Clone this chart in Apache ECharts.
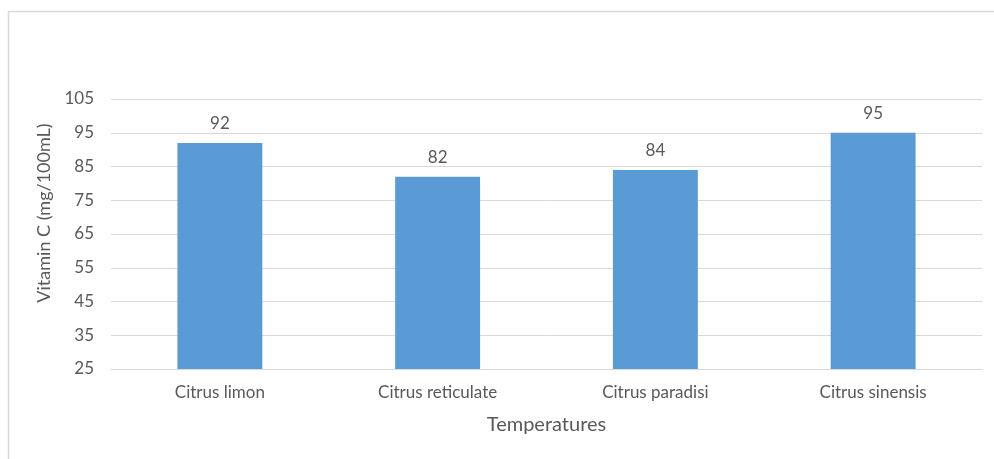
<!DOCTYPE html>
<html>
<head>
<meta charset="utf-8">
<script src="https://cdn.jsdelivr.net/npm/echarts@6/dist/echarts.min.js"></script>
<style>
  html, body { margin: 0; padding: 0; background: #ffffff; }
  #chart { width: 994px; height: 459px; }
</style>
</head>
<body>
<div id="chart"></div>
<script>
// Vitamin C content per citrus species
const categories = ['Citrus limon', 'Citrus reticulate', 'Citrus paradisi', 'Citrus sinensis'];
const vitaminC = [92, 82, 84, 95];
const yMin = 25;
const yMax = 105;
const yStep = 10;

const textColor = '#595959';
const gridColor = '#D9D9D9';
const fontFamily = 'Lato, "Open Sans", sans-serif';

const chart = echarts.init(document.getElementById('chart'));
chart.setOption({
  animation: false,
  backgroundColor: '#ffffff',
  graphic: [{
    type: 'rect',
    left: 6,
    top: 9,
    shape: { width: 1000, height: 500 },
    style: { fill: 'none', stroke: '#D9D9D9', lineWidth: 1.5 },
    silent: true
  }],
  grid: { left: 111, right: 12, top: 99, bottom: 90, containLabel: false },
  xAxis: {
    type: 'category',
    data: categories,
    name: 'Temperatures',
    nameLocation: 'middle',
    nameGap: 46,
    nameTextStyle: { color: textColor, fontSize: 20, fontFamily: fontFamily },
    axisLine: { show: true, lineStyle: { color: gridColor, width: 1 } },
    axisTick: { show: false },
    axisLabel: { color: textColor, fontSize: 17, fontFamily: fontFamily, margin: 15 }
  },
  yAxis: {
    type: 'value',
    min: yMin,
    max: yMax,
    interval: yStep,
    name: 'Vitamin C (mg/100mL)',
    nameLocation: 'middle',
    nameGap: 52,
    nameTextStyle: { color: textColor, fontSize: 18, fontFamily: fontFamily, padding: [0, 0, 0, 42] },
    axisLine: { show: false },
    axisTick: { show: false },
    axisLabel: { color: textColor, fontSize: 17, fontFamily: fontFamily, margin: 17 },
    splitLine: { show: true, lineStyle: { color: gridColor, width: 1 } }
  },
  series: [{
    type: 'bar',
    data: vitaminC,
    barWidth: '39%',
    itemStyle: { color: '#5B9BD5' },
    label: {
      show: true,
      position: 'top',
      distance: 11,
      color: textColor,
      fontSize: 17,
      fontFamily: fontFamily
    }
  }]
});
</script>
</body>
</html>
